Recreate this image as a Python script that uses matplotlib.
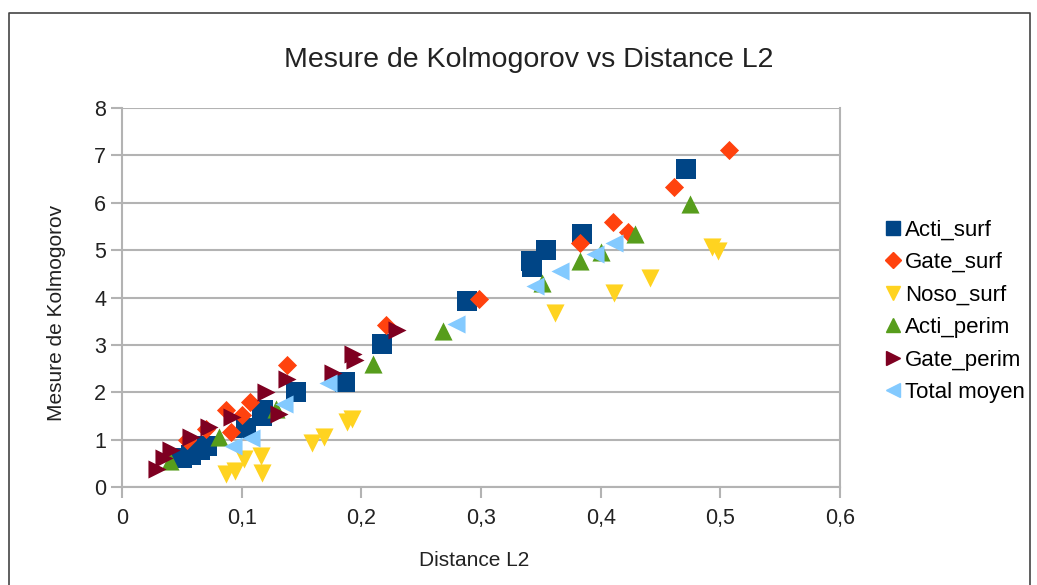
import matplotlib.pyplot as plt
from matplotlib.lines import Line2D
from matplotlib.ticker import FuncFormatter

plt.rcParams['font.family'] = ['Liberation Sans', 'DejaVu Sans']

# distance L2 / mesure de Kolmogorov par serie
acti_surf_x = [0.050, 0.058, 0.065, 0.071, 0.104, 0.117, 0.118, 0.145, 0.186, 0.217, 0.288, 0.342, 0.343, 0.354, 0.384, 0.471]
acti_surf_y = [0.62, 0.68, 0.78, 0.86, 1.25, 1.50, 1.62, 2.00, 2.22, 3.02, 3.93, 4.76, 4.64, 5.00, 5.35, 6.72]

gate_surf_x = [0.054, 0.070, 0.087, 0.091, 0.100, 0.107, 0.138, 0.221, 0.298, 0.383, 0.410, 0.423, 0.461, 0.507]
gate_surf_y = [0.99, 1.22, 1.62, 1.17, 1.53, 1.80, 2.58, 3.42, 3.96, 5.15, 5.60, 5.38, 6.33, 7.11]

noso_surf_x = [0.087, 0.094, 0.102, 0.116, 0.117, 0.159, 0.169, 0.188, 0.192, 0.362, 0.411, 0.441, 0.493, 0.498]
noso_surf_y = [0.27, 0.33, 0.60, 0.66, 0.30, 0.93, 1.06, 1.38, 1.44, 3.68, 4.10, 4.42, 5.07, 4.98]

acti_perim_x = [0.040, 0.081, 0.129, 0.210, 0.268, 0.351, 0.383, 0.400, 0.429, 0.475]
acti_perim_y = [0.55, 1.05, 1.65, 2.59, 3.30, 4.31, 4.76, 4.97, 5.33, 5.97]

gate_perim_x = [0.029, 0.035, 0.041, 0.058, 0.073, 0.092, 0.120, 0.131, 0.138, 0.176, 0.193, 0.195, 0.230]
gate_perim_y = [0.39, 0.62, 0.78, 1.06, 1.26, 1.47, 2.00, 1.55, 2.28, 2.40, 2.80, 2.68, 3.31]

total_x = [0.093, 0.108, 0.135, 0.172, 0.279, 0.345, 0.366, 0.395, 0.411]
total_y = [0.86, 1.04, 1.75, 2.20, 3.44, 4.24, 4.56, 4.91, 5.16]

series = [
    ("Acti_surf", acti_surf_x, acti_surf_y, "s", "#004586", 190),
    ("Gate_surf", gate_surf_x, gate_surf_y, "D", "#ff420e", 95),
    ("Noso_surf", noso_surf_x, noso_surf_y, "v", "#ffd320", 170),
    ("Acti_perim", acti_perim_x, acti_perim_y, "^", "#579d1c", 170),
    ("Gate_perim", gate_perim_x, gate_perim_y, ">", "#7e0021", 170),
    ("Total moyen", total_x, total_y, "<", "#83caff", 170),
]

fig = plt.figure(figsize=(10.37, 5.85), dpi=100)
ax = fig.add_axes([0.1177, 0.1675, 0.6923, 0.6479])

for name, xs, ys, m, c, s in series:
    ax.scatter(xs, ys, marker=m, color=c, s=s, linewidths=0, zorder=3)

ax.set_xlim(0, 0.6)
ax.set_ylim(0, 8)
ax.set_xticks([0, 0.1, 0.2, 0.3, 0.4, 0.5, 0.6])
ax.set_yticks(range(9))
ax.xaxis.set_major_formatter(FuncFormatter(lambda v, p: ("%g" % round(v, 1)).replace(".", ",")))
ax.yaxis.grid(True, color="#b3b3b3", linewidth=1.5)
ax.set_axisbelow(True)
for sp in ax.spines.values():
    sp.set_color("#b3b3b3")
    sp.set_linewidth(1.5)
ax.spines["top"].set_visible(False)
ax.tick_params(colors="#b3b3b3", labelcolor="#222222", labelsize=15.5, length=8, width=1.5)
ax.tick_params(axis="x", pad=7)

fig.text(0.51, 1 - 60 / 585, "Mesure de Kolmogorov vs Distance L2", fontsize=20.5,
         color="#222222", ha="center", va="center")
fig.text(474 / 1037, 1 - 560 / 585, "Distance L2", fontsize=15, color="#222222",
         ha="center", va="center")
fig.text(57 / 1037, 1 - 313 / 585, "Mesure de Kolmogorov", fontsize=15, color="#222222",
         ha="center", va="center", rotation=90)

handles = [Line2D([], [], marker=m, color=c, linestyle="none", markersize=10 if m != "D" else 8)
           for name, xs, ys, m, c, s in series]
fig.legend(handles, [t[0] for t in series], loc="upper left", bbox_to_anchor=(0.831, 0.659),
           frameon=False, fontsize=16, handletextpad=0.05, labelspacing=0.52, handlelength=1.0)

# cadre exterieur
fig.add_artist(Line2D([0.0087, 0.0087, 0.993, 0.993], [0.0, 0.978, 0.978, 0.0],
                      transform=fig.transFigure, color="#444444", linewidth=1.2))

fig.savefig("out.png", dpi=100)
